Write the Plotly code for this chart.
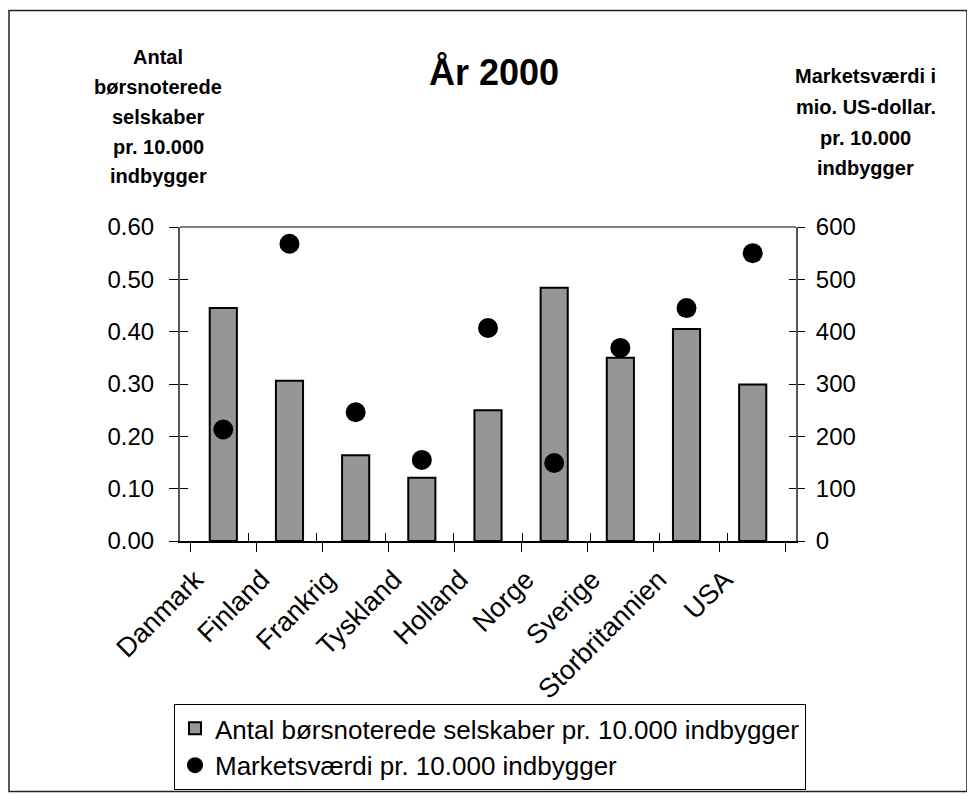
import plotly.graph_objects as go

# ---- data ----
countries = ["Danmark", "Finland", "Frankrig", "Tyskland", "Holland",
             "Norge", "Sverige", "Storbritannien", "USA"]
companies_per_10000 = [0.445, 0.306, 0.164, 0.121, 0.250, 0.484, 0.350, 0.405, 0.299]
market_value_per_10000 = [213, 568, 246, 155, 407, 149, 369, 445, 550]

left_ticks = [0.0, 0.1, 0.2, 0.3, 0.4, 0.5, 0.6]
right_ticks = [0, 100, 200, 300, 400, 500, 600]

bar_name = "Antal børsnoterede selskaber pr. 10.000 indbygger"
dot_name = "Marketsværdi pr. 10.000 indbygger"
title_text = "År 2000"
left_title_lines = ["Antal", "børsnoterede", "selskaber", "pr. 10.000", "indbygger"]
right_title_lines = ["Marketsværdi i", "mio. US-dollar.", "pr. 10.000", "indbygger"]

# ---- layout geometry (reference-image pixels) ----
OFF = 8                      # page body margin
W, H = 975 - OFF, 802 - OFF  # figure size
L, R, T, B = 180, 796, 227, 543
FONT = "Arial, Liberation Sans, sans-serif"


def px(x):
    return (x - L) / (R - L)


def py(y):
    return (B - y) / (B - T)


boundaries = [i - 0.5 for i in range(len(countries) + 1)]

fig = go.Figure()
fig.add_trace(go.Bar(
    x=countries, y=companies_per_10000, name=bar_name,
    marker=dict(color="#969696", line=dict(color="black", width=2)),
    xaxis="x", yaxis="y",
))
fig.add_trace(go.Scatter(
    x=countries, y=market_value_per_10000, name=dot_name, mode="markers",
    marker=dict(color="black", size=20),
    xaxis="x", yaxis="y2",
))
# helper (empty) traces so the inside-tick overlay axes are drawn
fig.add_trace(go.Scatter(x=[], y=[], xaxis="x2", yaxis="y3", showlegend=False, hoverinfo="skip"))
fig.add_trace(go.Scatter(x=[], y=[], xaxis="x", yaxis="y4", showlegend=False, hoverinfo="skip"))

axis_common = dict(showgrid=False, zeroline=False)

annotations = [dict(text=f"<b>{title_text}</b>", x=px(494), y=py(72), xref="paper", yref="paper",
                    showarrow=False, xanchor="center", yanchor="middle",
                    font=dict(family=FONT, size=36, color="black"))]
for i, line in enumerate(left_title_lines):
    annotations.append(dict(text=f"<b>{line}</b>", x=px(158), y=py(56 + 30 * i),
                            xref="paper", yref="paper", showarrow=False,
                            xanchor="center", yanchor="middle",
                            font=dict(family=FONT, size=20, color="black")))
for i, line in enumerate(right_title_lines):
    annotations.append(dict(text=f"<b>{line}</b>", x=px(866), y=py(75 + 31 * i),
                            xref="paper", yref="paper", showarrow=False,
                            xanchor="center", yanchor="middle",
                            font=dict(family=FONT, size=20, color="black")))

fig.update_layout(
    width=W, height=H,
    margin=dict(l=L - OFF, r=W - (R - OFF), t=T - OFF, b=H - (B - OFF)),
    paper_bgcolor="white", plot_bgcolor="white",
    font=dict(family=FONT, size=24, color="black"),
    bargap=0.59,
    showlegend=True,
    legend=dict(x=px(174), y=py(707), xanchor="left", yanchor="top",
                bordercolor="black", borderwidth=1, bgcolor="white",
                font=dict(family=FONT, size=26, color="black"),
                itemwidth=30, tracegroupgap=0),
    xaxis=dict(type="category", tickson="boundaries", ticks="outside", ticklen=9,
               tickcolor="black", showline=True, linecolor="black", linewidth=2,
               tickangle=-45, tickfont=dict(size=27), ticklabelshift=-28,
               ticklabelstandoff=10, **axis_common),
    xaxis2=dict(type="linear", overlaying="x", anchor="y", range=[-0.5, len(countries) - 0.5],
                tickvals=boundaries, ticks="inside", ticklen=8, tickcolor="black",
                showticklabels=False, showline=False, **axis_common),
    yaxis=dict(range=[0, 0.6], tickvals=left_ticks, tickformat=".2f", ticks="outside",
               ticklen=9, tickcolor="black", showline=True, linecolor="#555555", linewidth=2,
               ticklabelstandoff=10, **axis_common),
    yaxis2=dict(range=[0, 600], tickvals=right_ticks, side="right", overlaying="y",
                anchor="x", ticks="outside", ticklen=7, tickcolor="black", showline=True,
                linecolor="#555555", linewidth=2, ticklabelstandoff=6, **axis_common),
    yaxis3=dict(range=[0, 0.6], tickvals=left_ticks, overlaying="y", anchor="x2", side="left",
                ticks="inside", ticklen=8, tickcolor="black", showticklabels=False,
                showline=False, **axis_common),
    yaxis4=dict(range=[0, 600], tickvals=right_ticks, overlaying="y", anchor="x", side="right",
                ticks="inside", ticklen=7, tickcolor="black", showticklabels=False,
                showline=False, **axis_common),
    annotations=annotations,
    shapes=[
        dict(type="line", xref="paper", yref="paper", x0=0, x1=1, y0=1, y1=1,
             line=dict(color="#808080", width=2), layer="below"),
        dict(type="rect", xref="paper", yref="paper", x0=px(9), x1=px(967), y0=py(795), y1=py(9),
             line=dict(color="#222222", width=1.5), fillcolor="rgba(0,0,0,0)", layer="below"),
    ],
)

fig.write_html("out.html")
